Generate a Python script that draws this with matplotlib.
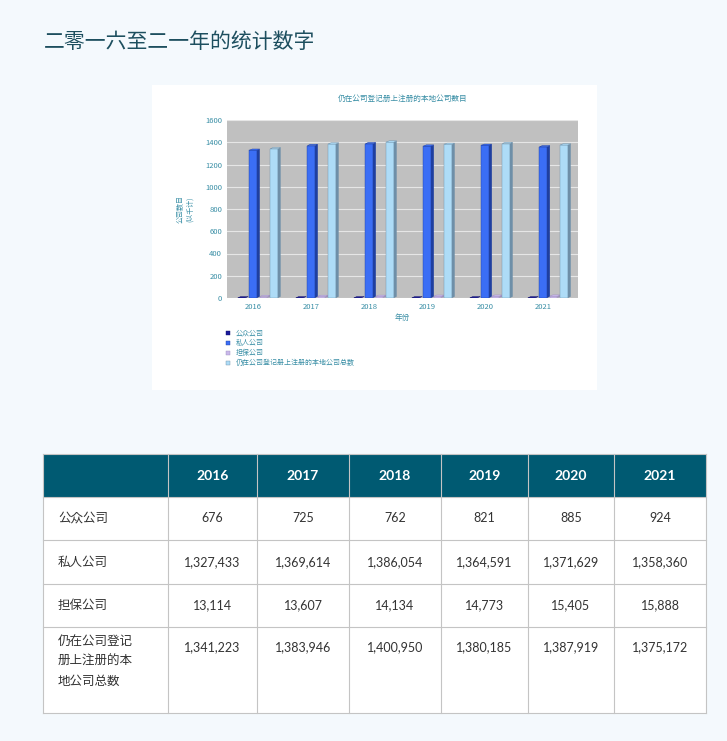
import matplotlib
matplotlib.use('Agg')
import matplotlib.pyplot as plt
from matplotlib import font_manager
from matplotlib.patches import Rectangle, Polygon
import numpy as np

# pick whichever CJK family matplotlib actually registered
names = set(f.name for f in font_manager.fontManager.ttflist)
cjk = [n for n in ['Noto Sans CJK SC', 'Noto Sans CJK JP', 'Noto Sans CJK TC',
                   'Noto Sans CJK KR', 'Noto Sans SC'] if n in names]
if not cjk:
    cjk = sorted(n for n in names if 'CJK' in n)
plt.rcParams['font.family'] = cjk[:1] + ['DejaVu Sans']

years = ['2016', '2017', '2018', '2019', '2020', '2021']
public_co = [676, 725, 762, 821, 885, 924]
private_co = [1327433, 1369614, 1386054, 1364591, 1371629, 1358360]
guarantee_co = [13114, 13607, 14134, 14773, 15405, 15888]
total_co = [1341223, 1383946, 1400950, 1380185, 1387919, 1375172]
row_labels = ['公众公司', '私人公司', '担保公司', '仍在公司登记\n册上注册的本\n地公司总数']
series_names = ['公众公司', '私人公司', '担保公司', '仍在公司登记册上注册的本地公司总数']

W, H = 727, 741
fig = plt.figure(figsize=(W / 100, H / 100), dpi=100)
fig.patch.set_facecolor('#f4f9fd')

def fx(px):
    return px / W

def fy(py):
    return 1 - py / H

fig.text(fx(44), fy(42), '二零一六至二一年的统计数字', fontsize=15, color='#1d4f5f',
         va='center', ha='left')

# white card behind chart
fig.patches.append(Rectangle((fx(152), fy(390)), fx(597) - fx(152), (390 - 85) / H,
                             transform=fig.transFigure, facecolor='white', edgecolor='none',
                             zorder=-5))

ax = fig.add_axes([fx(227), fy(298), fx(578) - fx(227), (298 - 120) / H])
ax.set_facecolor('#c0c0c0')
ax.set_xlim(-0.45, 5.6)
ax.set_ylim(0, 1600)
ax.set_yticks(range(0, 1601, 200))
ax.grid(axis='y', color='#e6e6e6', lw=0.8)
ax.set_axisbelow(True)
for s in ax.spines.values():
    s.set_visible(False)
ax.tick_params(length=0, labelsize=5.5, labelcolor='#3a8fa6')
x = np.arange(len(years))
ax.set_xticks(x)
ax.set_xticklabels(years, fontsize=5.5, color='#3a8fa6')
ax.set_xlabel('年份', fontsize=5.5, color='#3a8fa6', labelpad=2)
ax.set_ylabel('公司数目\n(以千计)', fontsize=5, color='#3a8fa6', labelpad=8)

series = [public_co, private_co, guarantee_co, total_co]
offsets = [-0.2, 0.0, 0.18, 0.36]
fronts = ['#1a1a9a', '#3b6ef5', '#c9b8ea', '#aedcf7']
sides = ['#10106a', '#1f3fa0', '#9e8fc0', '#6e8fa8']
bw = 0.13
dx, dy = 0.05, 12
for vals, off, fc, sc, name in zip(series, offsets, fronts, sides, series_names):
    h = np.array(vals) / 1000.0
    ax.bar(x + off, h, width=bw, color=fc, edgecolor=sc, lw=0.3, label=name, zorder=3)
    for xi, hi in zip(x + off, h):
        r = xi + bw / 2
        l = xi - bw / 2
        ax.add_patch(Polygon([(r, 0), (r + dx, dy), (r + dx, hi + dy), (r, hi)],
                             facecolor=sc, edgecolor='none', zorder=3))
        ax.add_patch(Polygon([(l, hi), (l + dx, hi + dy), (r + dx, hi + dy), (r, hi)],
                             facecolor=fc, edgecolor=sc, lw=0.3, zorder=3))
ax.set_title('仍在公司登记册上注册的本地公司数目', fontsize=5.5, color='#3a8fa6', pad=14)
ax.legend(loc='upper left', bbox_to_anchor=(-0.02, -0.14), fontsize=5, frameon=False,
          handlelength=0.6, handleheight=0.6, labelspacing=0.3, labelcolor='#3a8fa6')

# table
col_edges = [43, 168, 257, 349, 441, 528, 614, 706]
row_edges = [454, 497, 540, 584, 627, 713]
header_color = '#005a72'
line_color = '#c4c4c4'
fig.patches.append(Rectangle((fx(43), fy(713)), fx(706) - fx(43), (713 - 454) / H,
                             transform=fig.transFigure, facecolor='white', edgecolor='none',
                             zorder=-5))
fig.patches.append(Rectangle((fx(43), fy(497)), fx(706) - fx(43), (497 - 454) / H,
                             transform=fig.transFigure, facecolor=header_color, edgecolor='none',
                             zorder=-4))
for c in col_edges:
    fig.add_artist(plt.Line2D([fx(c), fx(c)], [fy(454), fy(713)], color=line_color, lw=0.8))
for r in row_edges:
    fig.add_artist(plt.Line2D([fx(43), fx(706)], [fy(r), fy(r)], color=line_color, lw=0.8))

for j, yr in enumerate(years):
    cx = (col_edges[j + 1] + col_edges[j + 2]) / 2
    fig.text(fx(cx), fy(476), yr, color='white', fontsize=10, fontweight='bold',
             ha='center', va='center', family='Lato')

table_rows = [public_co, private_co, guarantee_co, total_co]
for i, (lab, vals) in enumerate(zip(row_labels, table_rows)):
    top, bot = row_edges[i + 1], row_edges[i + 2]
    ty = (top + bot) / 2 if i < 3 else top + 20
    if i < 3:
        fig.text(fx(58), fy(ty), lab, fontsize=9, color='#333333', ha='left', va='center')
    else:
        fig.text(fx(58), fy(top + 8), lab, fontsize=9, color='#333333', ha='left', va='top',
                 linespacing=1.7)
    for j, v in enumerate(vals):
        cx = (col_edges[j + 1] + col_edges[j + 2]) / 2
        fig.text(fx(cx), fy(ty), f'{v:,}', fontsize=9, color='#333333', ha='center',
                 va='center', family='Lato')

fig.savefig('out.png', dpi=100, facecolor=fig.get_facecolor())
